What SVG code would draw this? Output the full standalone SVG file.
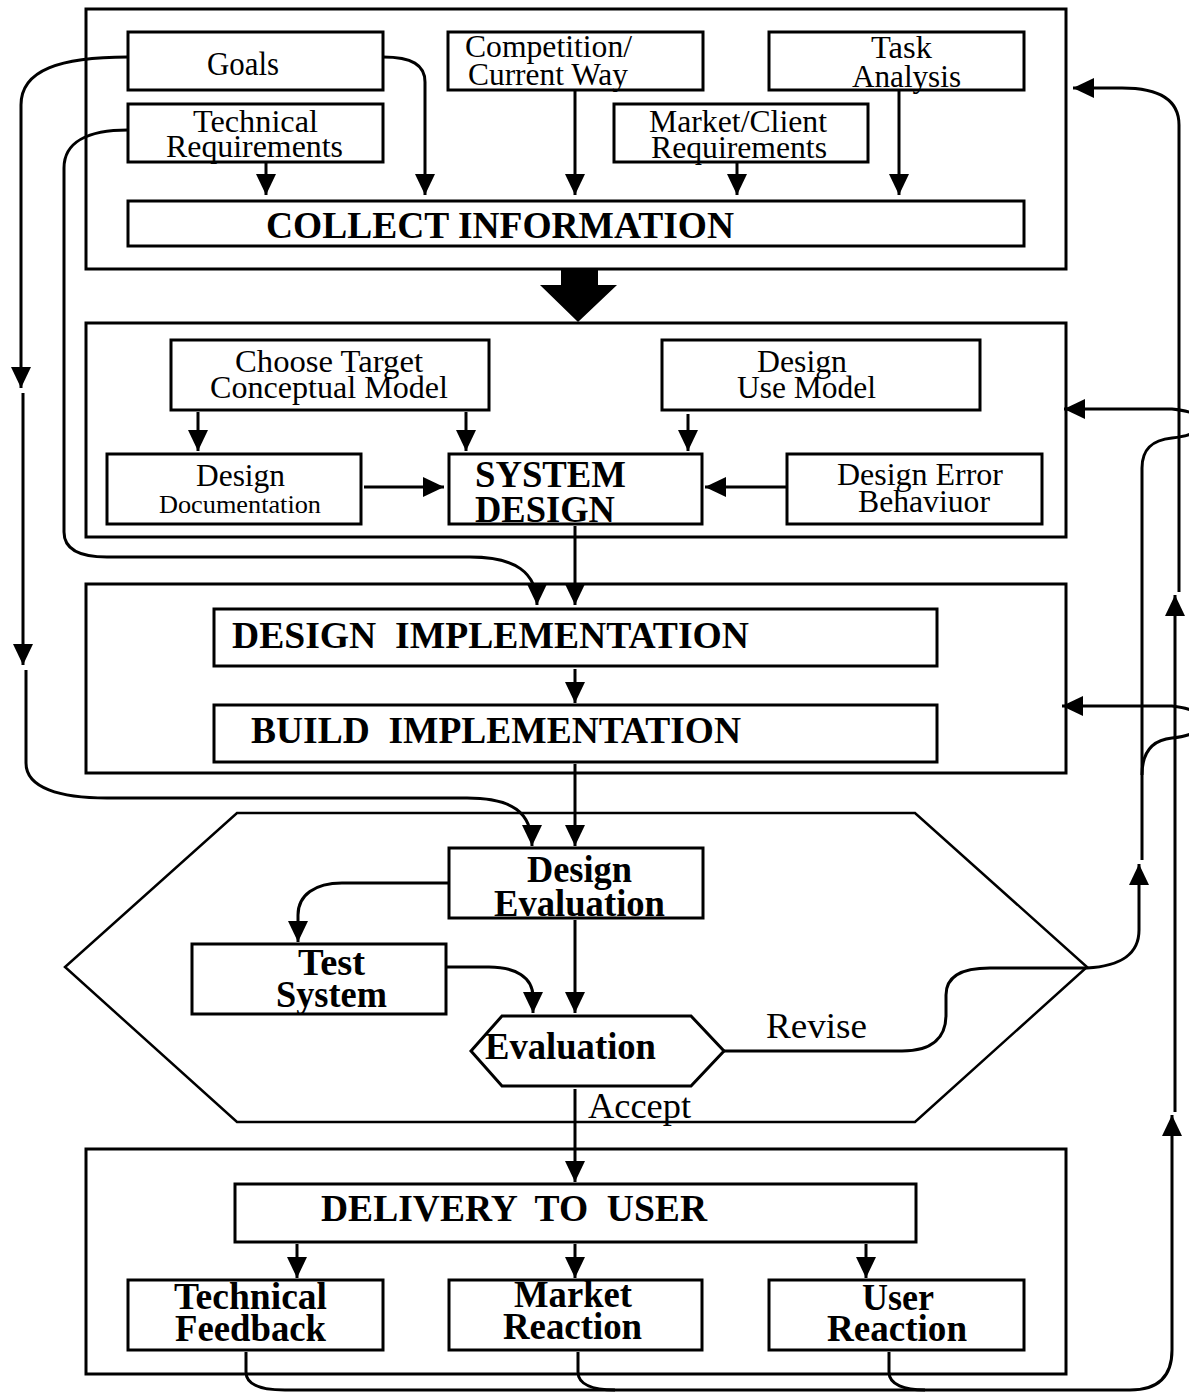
<svg xmlns="http://www.w3.org/2000/svg" width="1189" height="1392" viewBox="0 0 1189 1392">
<style>
.frame{fill:none;stroke:#000;stroke-width:3}
.box{fill:#fff;stroke:#000;stroke-width:3}
.hex{fill:none;stroke:#000;stroke-width:2.5}
.t{font-family:"Liberation Serif","Times New Roman",serif;font-size:31px;fill:#000}
.b{font-family:"Liberation Serif","Times New Roman",serif;font-size:37px;font-weight:bold;fill:#000}
.s{font-size:26px}
.g{font-size:34px}
.lbl{font-size:35px}
.c{fill:none;stroke:#000;stroke-width:3}
</style>
<defs>
<marker id="ah" markerUnits="userSpaceOnUse" markerWidth="22" markerHeight="21" refX="21" refY="10" orient="auto">
<path d="M0,0 L21,10 L0,20 Z" fill="#000"/>
</marker>
</defs>
<rect width="1189" height="1392" fill="#fff"/>

<g id="collect-section">
<rect class="frame" x="86" y="9" width="980" height="260"/>
</g>
<g id="goals"><rect class="box" x="128" y="32" width="255" height="58"/><text class="t g" x="207" y="75" textLength="72" lengthAdjust="spacingAndGlyphs">Goals</text></g>
<g id="technical-requirements"><rect class="box" x="128" y="104" width="255" height="58"/><text class="t" x="193" y="132" textLength="125" lengthAdjust="spacingAndGlyphs">Technical</text><text class="t" x="166" y="157" textLength="177" lengthAdjust="spacingAndGlyphs">Requirements</text></g>
<g id="competition"><rect class="box" x="448" y="32" width="255" height="58"/><text class="t" x="465" y="57" textLength="167" lengthAdjust="spacingAndGlyphs">Competition/</text><text class="t" x="468" y="85" textLength="160" lengthAdjust="spacingAndGlyphs">Current Way</text></g>
<g id="task-analysis"><rect class="box" x="769" y="32" width="255" height="58"/><text class="t" x="871" y="58" textLength="61" lengthAdjust="spacingAndGlyphs">Task</text><text class="t" x="852" y="87" textLength="109" lengthAdjust="spacingAndGlyphs">Analysis</text></g>
<g id="market-client"><rect class="box" x="614" y="104" width="254" height="58"/><text class="t" x="649" y="132" textLength="178" lengthAdjust="spacingAndGlyphs">Market/Client</text><text class="t" x="651" y="158" textLength="176" lengthAdjust="spacingAndGlyphs">Requirements</text></g>
<g id="collect-information"><rect class="box" x="128" y="201" width="896" height="45"/><text class="b" x="266" y="238" textLength="468" lengthAdjust="spacingAndGlyphs">COLLECT INFORMATION</text></g>

<g id="big-arrow"><path d="M561,270 H598 V285 H617 L578,322 L540,285 H561 Z" fill="#000"/></g>

<g id="design-section"><rect class="frame" x="86" y="323" width="980" height="214"/></g>
<g id="choose-target"><rect class="box" x="171" y="340" width="318" height="70"/><text class="t" x="235" y="372" textLength="188" lengthAdjust="spacingAndGlyphs">Choose Target</text><text class="t" x="210" y="398" textLength="238" lengthAdjust="spacingAndGlyphs">Conceptual Model</text></g>
<g id="design-use-model"><rect class="box" x="662" y="340" width="318" height="70"/><text class="t" x="757" y="372" textLength="90" lengthAdjust="spacingAndGlyphs">Design</text><text class="t" x="737" y="398" textLength="139" lengthAdjust="spacingAndGlyphs">Use Model</text></g>
<g id="design-documentation"><rect class="box" x="107" y="454" width="254" height="70"/><text class="t" x="196" y="486" textLength="89" lengthAdjust="spacingAndGlyphs">Design</text><text class="t s" x="159" y="513" textLength="162" lengthAdjust="spacingAndGlyphs">Documentation</text></g>
<g id="system-design"><rect class="box" x="449" y="454" width="253" height="70"/><text class="b" x="475" y="487" textLength="151" lengthAdjust="spacingAndGlyphs">SYSTEM</text><text class="b" x="475" y="522" textLength="140" lengthAdjust="spacingAndGlyphs">DESIGN</text></g>
<g id="design-error"><rect class="box" x="787" y="454" width="255" height="70"/><text class="t" x="837" y="485" textLength="166" lengthAdjust="spacingAndGlyphs">Design Error</text><text class="t" x="858" y="512" textLength="132" lengthAdjust="spacingAndGlyphs">Behaviuor</text></g>

<g id="implementation-section"><rect class="frame" x="86" y="584" width="980" height="189"/></g>
<g id="design-implementation"><rect class="box" x="214" y="609" width="723" height="57"/><text class="b" x="232" y="648" textLength="517" lengthAdjust="spacingAndGlyphs" xml:space="preserve">DESIGN  IMPLEMENTATION</text></g>
<g id="build-implementation"><rect class="box" x="214" y="705" width="723" height="57"/><text class="b" x="251" y="743" textLength="490" lengthAdjust="spacingAndGlyphs" xml:space="preserve">BUILD  IMPLEMENTATION</text></g>

<g id="evaluation-section"><polygon class="hex" points="237,813 915,813 1087,967 915,1122 237,1122 65,967"/></g>
<g id="design-evaluation"><rect class="box" x="449" y="848" width="254" height="70"/><text class="b" x="527" y="882" textLength="105" lengthAdjust="spacingAndGlyphs">Design</text><text class="b" x="494" y="916" textLength="171" lengthAdjust="spacingAndGlyphs">Evaluation</text></g>
<g id="test-system"><rect class="box" x="192" y="944" width="254" height="70"/><text class="b" x="298" y="975" textLength="67" lengthAdjust="spacingAndGlyphs">Test</text><text class="b" x="276" y="1007" textLength="111" lengthAdjust="spacingAndGlyphs">System</text></g>
<g id="evaluation"><polygon class="box" points="471,1051 502,1016 691,1016 724,1051 691,1086 502,1086"/><text class="b" x="485" y="1059" textLength="171" lengthAdjust="spacingAndGlyphs">Evaluation</text></g>

<g id="delivery-section"><rect class="frame" x="86" y="1149" width="980" height="225"/></g>
<g id="delivery"><rect class="box" x="235" y="1184" width="681" height="58"/><text class="b" x="321" y="1221" textLength="386" lengthAdjust="spacingAndGlyphs" xml:space="preserve">DELIVERY  TO  USER</text></g>
<g id="technical-feedback"><rect class="box" x="128" y="1280" width="255" height="70"/><text class="b" x="174" y="1309" textLength="153" lengthAdjust="spacingAndGlyphs">Technical</text><text class="b" x="175" y="1341" textLength="151" lengthAdjust="spacingAndGlyphs">Feedback</text></g>
<g id="market-reaction"><rect class="box" x="449" y="1280" width="253" height="70"/><text class="b" x="514" y="1307" textLength="118" lengthAdjust="spacingAndGlyphs">Market</text><text class="b" x="503" y="1339" textLength="139" lengthAdjust="spacingAndGlyphs">Reaction</text></g>
<g id="user-reaction"><rect class="box" x="769" y="1280" width="255" height="70"/><text class="b" x="862" y="1310" textLength="72" lengthAdjust="spacingAndGlyphs">User</text><text class="b" x="827" y="1341" textLength="140" lengthAdjust="spacingAndGlyphs">Reaction</text></g>

<g id="connectors">
<path class="c" marker-end="url(#ah)" d="M266,162 V195"/>
<path class="c" marker-end="url(#ah)" d="M383,57 C412,57 425,65 425,82 V195"/>
<path class="c" marker-end="url(#ah)" d="M575,90 V195"/>
<path class="c" marker-end="url(#ah)" d="M737,162 V195"/>
<path class="c" marker-end="url(#ah)" d="M899,90 V195"/>
<path class="c" marker-end="url(#ah)" d="M128,57 C60,57 21,70 21,105 V388"/>
<path class="c" marker-end="url(#ah)" d="M23,393 V665"/>
<path class="c" marker-end="url(#ah)" d="M26,670 V763 C26,788 60,798 107,798 H467 C512,798 532,812 532,846"/>
<path class="c" marker-end="url(#ah)" d="M128,130 C88,130 64,142 64,168 V532 C64,550 80,557 107,557 H470 C515,557 537,572 537,605"/>
<path class="c" marker-end="url(#ah)" d="M198,412 V451"/>
<path class="c" marker-end="url(#ah)" d="M466,412 V451"/>
<path class="c" marker-end="url(#ah)" d="M688,414 V451"/>
<path class="c" marker-end="url(#ah)" d="M364,487 H444"/>
<path class="c" marker-end="url(#ah)" d="M787,487 H705"/>
<path class="c" marker-end="url(#ah)" d="M575,526 V605"/>
<path class="c" marker-end="url(#ah)" d="M575,669 V703"/>
<path class="c" marker-end="url(#ah)" d="M575,764 V846"/>
<path class="c" marker-end="url(#ah)" d="M449,883 H342 C315,883 298,895 298,915 V942"/>
<path class="c" marker-end="url(#ah)" d="M575,920 V1013"/>
<path class="c" marker-end="url(#ah)" d="M446,967 H489 C515,967 533,977 533,997 V1013"/>
<path class="c" marker-end="url(#ah)" d="M724,1051 H902 C934,1051 946,1036 946,1015 V995 C946,977 960,968 990,968 H1087 C1120,966 1139,955 1139,930 V864"/>
<path class="c" marker-end="url(#ah)" d="M575,1089 V1182"/>
<path class="c" marker-end="url(#ah)" d="M297,1244 V1278"/>
<path class="c" marker-end="url(#ah)" d="M575,1244 V1278"/>
<path class="c" marker-end="url(#ah)" d="M866,1244 V1278"/>
<path class="c" marker-end="url(#ah)" d="M246,1352 V1372 C246,1385 262,1390 285,1390 H1130 C1160,1390 1172,1375 1172,1350 V1115"/>
<path class="c" d="M578,1352 V1372 C578,1385 594,1390 615,1390"/>
<path class="c" d="M889,1352 V1372 C889,1385 905,1390 925,1390"/>
<path class="c" marker-end="url(#ah)" d="M1175,1112 V595"/>
<path class="c" marker-end="url(#ah)" d="M1179,592 V125 C1179,100 1160,88 1122,88 H1073"/>
<path class="c" marker-end="url(#ah)" d="M1142,860 V468 C1142,449 1152,440 1172,438 C1190,436 1200,432 1200,423 C1200,414 1190,411 1172,409 H1064"/>
<path class="c" marker-end="url(#ah)" d="M1142,775 C1142,752 1152,740 1172,738 C1190,736 1200,732 1200,722 C1200,712 1190,708 1172,706 H1062"/>
</g>

<g id="labels">
<text class="t lbl" x="766" y="1038" textLength="101" lengthAdjust="spacingAndGlyphs">Revise</text>
<text class="t lbl" x="588" y="1118" textLength="103" lengthAdjust="spacingAndGlyphs">Accept</text>
</g>
</svg>
